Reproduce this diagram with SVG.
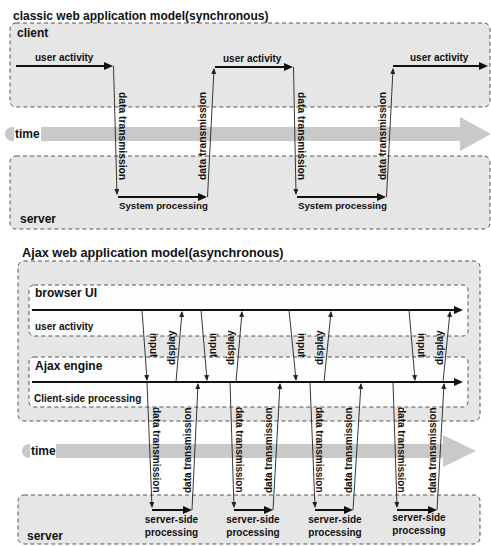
<svg xmlns="http://www.w3.org/2000/svg" width="491" height="546" viewBox="0 0 491 546">
<style>
text{font-family:"Liberation Sans",Arial,sans-serif;font-weight:bold;fill:#111}
.title{font-size:12px}
.lbl{font-size:12px}
.sm{font-size:10px}
.dt{font-size:10.3px}
.box{fill:#e6e6e6;stroke:#555;stroke-width:1;stroke-dasharray:4 3}
.wbox{fill:#fdfdfd;stroke:#555;stroke-width:1;stroke-dasharray:4 3}
.band{fill:#c9c9c9}
.thick{stroke:#111;stroke-width:2;fill:none;marker-end:url(#ah)}
.thin{stroke:#222;stroke-width:0.9;fill:none;marker-end:url(#as)}
</style>
<defs>
<marker id="ah" markerWidth="10" markerHeight="8" refX="6" refY="4" orient="auto" markerUnits="userSpaceOnUse"><path d="M0,0 L9,4 L0,8 z" fill="#111"/></marker>
<marker id="as" markerWidth="7" markerHeight="6" refX="5" refY="2.5" orient="auto" markerUnits="userSpaceOnUse"><path d="M0,0 L6,2.5 L0,5 z" fill="#222"/></marker>
</defs>

<text class="title" x="13" y="20">classic web application model(synchronous)</text>
<g id="client">
<rect class="box" x="10" y="23" width="480" height="84" rx="6"/>
<text class="lbl" x="17" y="37">client</text>
</g>
<g id="time1">
<path class="band" d="M12,127 H460 V117 L491,134 L460,151 V141 H12 A7,7 0 0 1 12,127 z"/>
<rect x="14" y="127" width="27" height="14" fill="#fff"/>
<text class="lbl" x="15" y="138">time</text>
</g>
<g id="server1">
<rect class="box" x="10" y="156" width="480" height="73" rx="6"/>
<text class="lbl" x="20" y="223">server</text>
</g>

<g id="connectors1">
<path class="thick" d="M16,66 H110"/>
<path class="thin" d="M113.5,66 L117,194"/>
<path class="thick" d="M118,197 H204"/>
<path class="thin" d="M207.5,197 L214,69"/>
<path class="thick" d="M215,67 H290"/>
<path class="thin" d="M293.5,67 L296,194"/>
<path class="thick" d="M297,197 H383"/>
<path class="thin" d="M386.5,197 L393,69"/>
<path class="thick" d="M393,66 H485"/>
<text class="sm" x="35" y="61">user activity</text>
<text class="sm" x="223" y="62">user activity</text>
<text class="sm" x="410" y="61">user activity</text>
<text class="sm" x="119" y="209" style="font-size:9.7px">System processing</text>
<text class="sm" x="298" y="209" style="font-size:9.7px">System processing</text>
<text class="dt" transform="translate(119,92) rotate(90)">data transmission</text>
<text class="dt" transform="translate(206,180) rotate(-90)">data transmission</text>
<text class="dt" transform="translate(298,92) rotate(90)">data transmission</text>
<text class="dt" transform="translate(386,180) rotate(-90)">data transmission</text>
</g>

<text class="title" x="22" y="257" style="font-size:12.7px">Ajax web application model(asynchronous)</text>
<g id="ajax-model">
<rect class="box" x="18" y="261" width="462" height="160" rx="6"/>
</g>
<g id="browser-ui">
<rect class="wbox" x="29" y="285" width="439" height="51" rx="5"/>
<text class="lbl" x="35" y="297">browser UI</text>
<text class="sm" x="35" y="330">user activity</text>
</g>
<g id="ajax-engine">
<rect class="wbox" x="29" y="357" width="439" height="50" rx="5"/>
<text class="lbl" x="35" y="370">Ajax engine</text>
<text class="sm" x="34" y="402">Client-side processing</text>
</g>
<g id="time2">
<path class="band" d="M29,444 H443 V435 L476,451 L443,467 V458 H29 A7,7 0 0 1 29,444 z"/>
<rect x="30" y="444" width="26" height="14" fill="#fff"/>
<text class="lbl" x="31" y="455">time</text>
</g>
<g id="server2">
<rect class="box" x="18" y="495" width="462" height="49" rx="6"/>
<text class="lbl" x="27" y="540">server</text>
</g>

<g id="connectors2">
<path class="thick" d="M32,310 H460"/>
<path class="thick" d="M32,382 H460"/>
<path class="thin" d="M142,310 L147,380"/>
<path class="thin" d="M176,382 L182,312"/>
<path class="thin" d="M201,310 L207,380"/>
<path class="thin" d="M236,382 L242,312"/>
<path class="thin" d="M289,310 L296,380"/>
<path class="thin" d="M324,382 L331,312"/>
<path class="thin" d="M409,310 L415,380"/>
<path class="thin" d="M443,382 L450,312"/>
<path class="thin" d="M147,382 L152,507"/>
<path class="thin" d="M192,510 L198,384"/>
<path class="thin" d="M230,382 L234,507"/>
<path class="thin" d="M273,510 L280,384"/>
<path class="thin" d="M310,382 L315,507"/>
<path class="thin" d="M353,510 L361,384"/>
<path class="thin" d="M393,382 L397,507"/>
<path class="thin" d="M437,510 L444,384"/>
<path class="thick" d="M152,510 H189"/>
<path class="thick" d="M234,510 H270"/>
<path class="thick" d="M315,510 H350"/>
<path class="thick" d="M397,510 H434"/>
<text class="sm" transform="translate(150,333) rotate(90)">input</text>
<text class="sm" transform="translate(210,333) rotate(90)">input</text>
<text class="sm" transform="translate(298,333) rotate(90)">input</text>
<text class="sm" transform="translate(418,333) rotate(90)">input</text>
<text class="sm" transform="translate(175,365) rotate(-90)">display</text>
<text class="sm" transform="translate(234,365) rotate(-90)">display</text>
<text class="sm" transform="translate(323,365) rotate(-90)">display</text>
<text class="sm" transform="translate(443,365) rotate(-90)">display</text>
<text class="sm" transform="translate(153,407) rotate(90)">data transmission</text>
<text class="sm" transform="translate(236,407) rotate(90)">data transmission</text>
<text class="sm" transform="translate(316,407) rotate(90)">data transmission</text>
<text class="sm" transform="translate(398,407) rotate(90)">data transmission</text>
<text class="sm" transform="translate(191,493) rotate(-90)">data transmission</text>
<text class="sm" transform="translate(272,493) rotate(-90)">data transmission</text>
<text class="sm" transform="translate(352,493) rotate(-90)">data transmission</text>
<text class="sm" transform="translate(436,493) rotate(-90)">data transmission</text>
<g class="sm" text-anchor="middle">
<text x="171.5" y="523">server-side</text><text x="171.5" y="536">processing</text>
<text x="253" y="523">server-side</text><text x="253" y="536">processing</text>
<text x="335" y="523">server-side</text><text x="335" y="536">processing</text>
<text x="419" y="521">server-side</text><text x="419" y="534">processing</text>
</g>
</g>
</svg>
